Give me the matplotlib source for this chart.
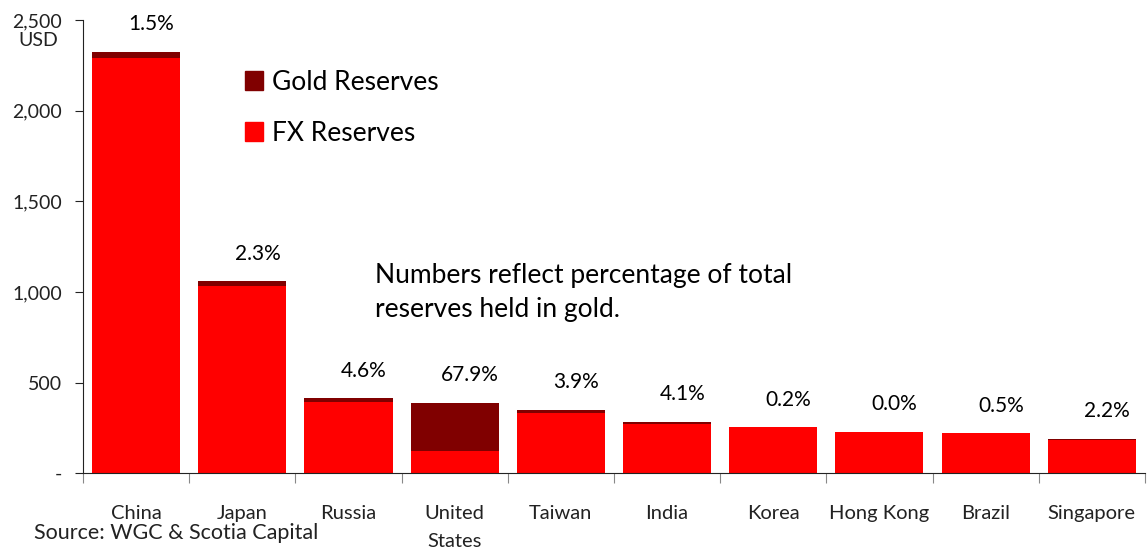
import matplotlib
matplotlib.use("Agg")
import matplotlib.pyplot as plt
from matplotlib.patches import Patch
import numpy as np

plt.rcParams['font.family'] = ['Lato', 'DejaVu Sans']

countries = ["China", "Japan", "Russia", "United\nStates", "Taiwan", "India",
             "Korea", "Hong Kong", "Brazil", "Singapore"]
total_reserves = [2325, 1058, 413, 386, 347, 281, 253, 226, 220, 187]
gold_pct = [1.5, 2.3, 4.6, 67.9, 3.9, 4.1, 0.2, 0.0, 0.5, 2.2]
y_ticks = [0, 500, 1000, 1500, 2000, 2500]
y_tick_labels = ["-", "500", "1,000", "1,500", "2,000", "2,500"]

total = np.array(total_reserves, dtype=float)
gold = total * np.array(gold_pct) / 100.0
fx = total - gold

FX_RED = "#FF0000"
GOLD_RED = "#800000"

fig = plt.figure(figsize=(11.48, 5.56), dpi=100)
ax = fig.add_axes([0.0723, 0.149, 0.925, 0.815])

x = np.arange(len(countries))
ax.bar(x, fx, width=0.83, color=FX_RED, zorder=2)
ax.bar(x, gold, width=0.83, bottom=fx, color=GOLD_RED, zorder=2)

for xi, t, p in zip(x, total, gold_pct):
    ax.annotate(f"{p:.1f}%", (xi, t), xytext=(11, 20), textcoords="offset points",
                ha="center", va="center", fontsize=15)

ax.set_xlim(-0.5, len(countries) - 0.5)
ax.set_ylim(0, 2500)
ax.set_yticks(y_ticks)
ax.set_yticklabels(y_tick_labels, fontsize=14)
ax.tick_params(axis="y", length=6, direction="out", pad=9, colors="#222222")

# x ticks at category boundaries, labels at centers
ax.set_xticks(np.arange(len(countries) + 1) - 0.5)
ax.set_xticklabels([])
ax.set_xticks(x, minor=True)
ax.set_xticklabels(countries, minor=True, fontsize=14.5, linespacing=1.8, va="top")
ax.tick_params(axis="x", which="major", length=7, direction="out", colors="#888888")
ax.tick_params(axis="x", which="minor", length=0, pad=23, colors="#222222")

for s in ["top", "right"]:
    ax.spines[s].set_visible(False)
ax.spines["left"].set_color("#222222")
ax.spines["bottom"].set_color("#222222")

ax.text(-0.0235, 2386, "USD", fontsize=14, ha="right", va="center",
        color="#222222", transform=ax.get_yaxis_transform())

handles = [Patch(color=GOLD_RED, label="Gold Reserves"),
           Patch(color=FX_RED, label="FX Reserves")]
ax.legend(handles=handles, loc="upper left", bbox_to_anchor=(0.138, 0.925),
          frameon=False, fontsize=19, labelspacing=0.98, handlelength=0.65,
          handleheight=0.75, handletextpad=0.35, borderaxespad=0.2)

ax.text(2.25, 997, "Numbers reflect percentage of total\nreserves held in gold.",
        fontsize=19, ha="left", va="center", linespacing=1.45)

fig.text(0.03, 0.042, "Source: WGC & Scotia Capital", fontsize=15.5, ha="left",
         va="center", color="#222222")

fig.savefig("out.png", dpi=100)
